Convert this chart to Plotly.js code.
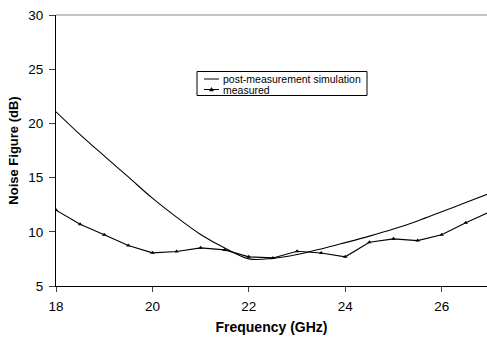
<!DOCTYPE html>
<html><head><meta charset="utf-8">
<script src="https://cdn.plot.ly/plotly-3.0.1.min.js"></script>
<style>html,body{margin:0;padding:0;background:#fff}#c{width:487px;height:339px}</style>
</head><body><div id="c"></div>
<script>
var freq = [18,18.5,19,19.5,20,20.5,21,21.5,22,22.5,23,23.5,24,24.5,25,25.5,26,26.5,27];
var simulation = [21.07,18.97,17.0,15.06,13.1,11.35,9.75,8.5,7.5,7.55,7.9,8.42,9.0,9.6,10.25,11.0,11.85,12.7,13.55];
var measured = [12.0,10.7,9.72,8.73,8.06,8.18,8.52,8.33,7.69,7.59,8.2,8.05,7.69,9.04,9.35,9.19,9.72,10.83,11.85];
var xTicks = [18,20,22,24,26];
var yTicks = [5,10,15,20,25,30];
var seriesNames = ['post-measurement simulation', 'measured'];

var F = '"Liberation Sans", Arial, sans-serif';
var W = 487, H = 339, ML = 56, MR = 0, MT = 15, MB = 53;
var PW = W - ML - MR, PH = H - MT - MB;
function px(x) { return (x - ML) / PW; }
function py(y) { return (H - MB - y) / PH; }

var traces = [
  {x: freq, y: simulation, name: seriesNames[0], mode: 'lines',
   line: {color: '#000', width: 1.1, shape: 'spline', smoothing: 1}},
  {x: freq, y: measured, name: seriesNames[1], mode: 'lines+markers',
   line: {color: '#000', width: 1.1},
   marker: {symbol: 'triangle-up', size: 4, color: '#000'}}
];

var shapes = [
  {type: 'line', xref: 'paper', yref: 'paper', x0: 0, x1: 1, y0: 1, y1: 1,
   line: {color: '#888', width: 1}},
  {type: 'rect', xref: 'paper', yref: 'paper', x0: px(197), x1: px(367), y0: py(95.5), y1: py(71.5),
   line: {color: '#000', width: 1}, fillcolor: '#fff'},
  {type: 'line', xref: 'paper', yref: 'paper', x0: px(204), x1: px(219), y0: py(79), y1: py(79),
   line: {color: '#000', width: 1}},
  {type: 'line', xref: 'paper', yref: 'paper', x0: px(204), x1: px(219), y0: py(89.5), y1: py(89.5),
   line: {color: '#000', width: 1}},
  {type: 'path', xref: 'paper', yref: 'paper',
   path: 'M ' + px(209.5) + ',' + py(91) + ' L ' + px(213.5) + ',' + py(91) + ' L ' + px(211.5) + ',' + py(87.5) + ' Z',
   line: {color: '#000', width: 0.5}, fillcolor: '#000'}
];
var annotations = [
  {xref: 'paper', yref: 'paper', x: px(221), y: py(79), xanchor: 'left', yanchor: 'middle',
   text: seriesNames[0], showarrow: false, font: {size: 10.5, family: F, color: '#000'}},
  {xref: 'paper', yref: 'paper', x: px(221), y: py(89.5), xanchor: 'left', yanchor: 'middle',
   text: seriesNames[1], showarrow: false, font: {size: 10.5, family: F, color: '#000'}}
];

var layout = {
  width: W, height: H,
  margin: {l: ML, r: MR, t: MT, b: MB},
  paper_bgcolor: '#fff', plot_bgcolor: '#fff',
  font: {family: F, color: '#000', size: 13.5},
  showlegend: false,
  xaxis: {range: [18, 26.94], tickvals: xTicks, ticks: 'outside', ticklen: 5,
    showgrid: false, zeroline: false, showline: true, linecolor: '#000', linewidth: 1,
    tickfont: {size: 13.5, family: F}, ticklabelstandoff: 3,
    title: {text: 'Frequency (GHz)', font: {size: 14, family: F, weight: 'bold'}, standoff: 8}},
  yaxis: {range: [5, 30], tickvals: yTicks, ticks: 'outside', ticklen: 6,
    showgrid: false, zeroline: false, showline: true, linecolor: '#000', linewidth: 1,
    tickfont: {size: 13.5, family: F}, ticklabelstandoff: 3,
    title: {text: 'Noise Figure (dB)', font: {size: 13, family: F, weight: 'bold'}, standoff: 6}},
  shapes: shapes,
  annotations: annotations
};
Plotly.newPlot('c', traces, layout, {displayModeBar: false, staticPlot: true});
</script></body></html>
